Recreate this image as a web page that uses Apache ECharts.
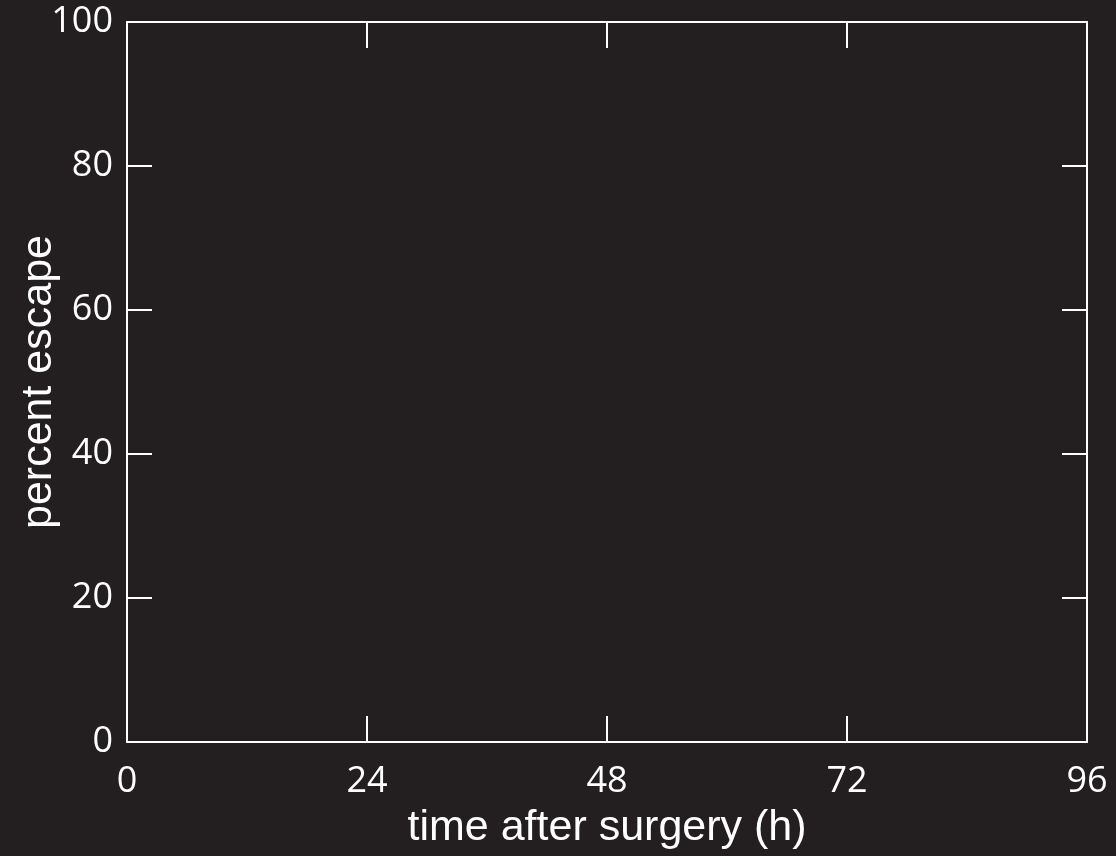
<!DOCTYPE html>
<html>
<head>
<meta charset="utf-8">
<style>
html,body{margin:0;padding:0;background:#231f20;}
#chart{width:1116px;height:856px;}
</style>
<script src="https://cdn.jsdelivr.net/npm/echarts@6/dist/echarts.min.js"></script>
</head>
<body>
<div id="chart"></div>
<script>
// Data (the reference chart shows empty axes: no plotted marks)
const xTickValues = [0, 24, 48, 72, 96];
const yTickValues = [0, 20, 40, 60, 80, 100];
const seriesData = [];
const xTitle = 'time after surgery (h)';
const yTitle = 'percent escape';

const fg = '#ffffff';
const labelFont = { color: fg, fontFamily: 'Open Sans', fontSize: 36 };
const titleFont = { color: fg, fontFamily: 'Liberation Sans', fontSize: 43 };

const xMin = xTickValues[0], xMax = xTickValues[xTickValues.length - 1];
const xInt = xTickValues[1] - xTickValues[0];
const yMin = yTickValues[0], yMax = yTickValues[yTickValues.length - 1];
const yInt = yTickValues[1] - yTickValues[0];

function xAxisBase(pos, showLabel) {
  return {
    type: 'value', position: pos, min: xMin, max: xMax, interval: xInt,
    axisLine: { show: true, onZero: false, lineStyle: { color: fg, width: 2 } },
    axisTick: { show: true, inside: true, length: 26, lineStyle: { color: fg, width: 2 } },
    axisLabel: Object.assign({ show: showLabel, margin: 22 }, labelFont),
    splitLine: { show: false }
  };
}
function yAxisBase(pos, showLabel) {
  return {
    type: 'value', position: pos, min: yMin, max: yMax, interval: yInt,
    axisLine: { show: true, onZero: false, lineStyle: { color: fg, width: 2 } },
    axisTick: { show: true, inside: true, length: 25, lineStyle: { color: fg, width: 2 } },
    axisLabel: Object.assign({ show: showLabel, margin: 14 }, labelFont),
    splitLine: { show: false }
  };
}

const xBottom = xAxisBase('bottom', true);
xBottom.name = xTitle;
xBottom.nameLocation = 'middle';
xBottom.nameGap = 65;
xBottom.nameMoveOverlap = false;
xBottom.nameTextStyle = titleFont;
const xTop = xAxisBase('top', false);

const yLeft = yAxisBase('left', true);
yLeft.name = yTitle;
yLeft.nameLocation = 'middle';
yLeft.nameGap = 66;
yLeft.nameMoveOverlap = false;
yLeft.nameTextStyle = titleFont;
const yRight = yAxisBase('right', false);

const chart = echarts.init(document.getElementById('chart'), null, { renderer: 'canvas' });
chart.setOption({
  backgroundColor: '#231f20',
  animation: false,
  grid: { left: 127, right: 29, top: 22, bottom: 114, containLabel: false, outerBoundsMode: 'none' },
  xAxis: [xBottom, xTop],
  yAxis: [yLeft, yRight],
  series: [{ type: 'line', xAxisIndex: 0, yAxisIndex: 0, data: seriesData, showSymbol: false }]
});
</script>
</body>
</html>
